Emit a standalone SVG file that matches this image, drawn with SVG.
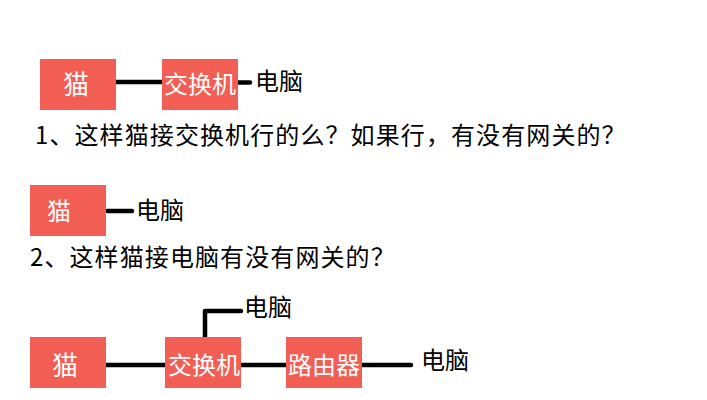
<svg xmlns="http://www.w3.org/2000/svg" width="707" height="400" viewBox="0 0 707 400">
<style>
text{font-family:"Noto Sans CJK SC","Noto Sans CJK JP",sans-serif;fill:#000}
.box{fill:#f25e54}
.w{fill:#fff;text-anchor:middle;font-size:24px}
.l{font-size:24px}
.c{stroke:#000;stroke-width:4.5;fill:none;stroke-linecap:round;stroke-linejoin:round}
</style>
<rect width="707" height="400" fill="#fff"/>
<g id="connectors">
<path class="c" d="M116 82H162"/><path class="c" d="M238 82.500H250"/>
<path class="c" d="M107 211H132"/>
<path class="c" d="M106 365H165"/><path class="c" d="M241 365H286"/><path class="c" d="M362 365H411"/>
<path class="c" d="M205 337V311H241"/>
</g>
<g id="n1"><rect class="box" x="40" y="59" width="76" height="51"/><text class="w" x="76" y="94" style="font-size:26px">猫</text></g>
<g id="n2"><rect class="box" x="162" y="59" width="76" height="51"/><text class="w" x="200" y="93">交换机</text></g>
<g id="n3"><text class="l" x="255" y="90">电脑</text></g>
<g id="n4"><text x="35" y="144" font-size="24" letter-spacing="1.1">1、这样猫接交换机行的么？如果行，有没有网关的？</text></g>
<g id="n5"><rect class="box" x="30" y="185" width="76" height="51"/><text class="w" x="59" y="220">猫</text></g>
<g id="n6"><text class="l" x="136" y="219">电脑</text></g>
<g id="n7"><text x="30" y="266" font-size="24" letter-spacing="1.1">2、这样猫接电脑有没有网关的？</text></g>
<g id="n8"><rect class="box" x="30" y="337" width="76" height="51"/><text class="w" x="65" y="375" style="font-size:26px">猫</text></g>
<g id="n9"><rect class="box" x="165" y="337" width="76" height="51"/><text class="w" x="204" y="374">交换机</text></g>
<g id="n10"><rect class="box" x="286" y="337" width="76" height="51"/><text class="w" x="324" y="374">路由器</text></g>
<g id="n11"><text class="l" x="244" y="316">电脑</text></g>
<g id="n12"><text class="l" x="421" y="369">电脑</text></g>
</svg>
